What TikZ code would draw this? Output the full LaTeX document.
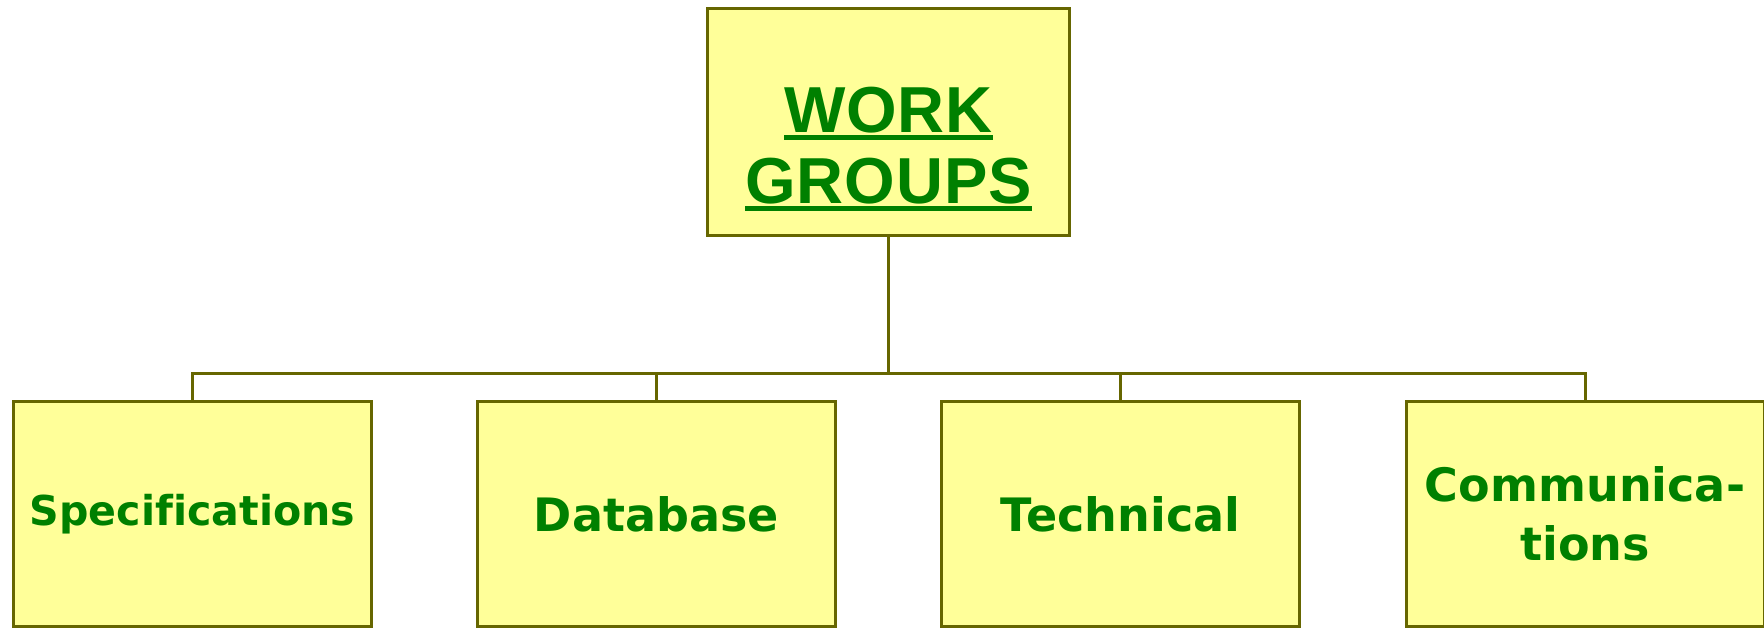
\documentclass[tikz,border=0pt]{standalone}
\usepackage{fontspec}
\newfontfamily\titlefont{Liberation Sans}[LetterSpace=1.5]
\newfontfamily\groupfont{DejaVu Sans}[Ligatures=NoCommon]
\usetikzlibrary{calc}
\definecolor{olivebox}{HTML}{666600}
\definecolor{paleyellow}{HTML}{FFFF99}
\definecolor{leafgreen}{HTML}{008000}
\def\thickul#1{\setbox0\hbox{#1}\rlap{\rule[-0.08cm]{\wd0}{0.05cm}}\box0}

\begin{document}
\begin{tikzpicture}[
		headbox/.style={draw=olivebox, fill=paleyellow, line width=0.03cm, minimum width=3.62cm, minimum height=2.27cm, inner sep=0pt, align=center, text=leafgreen, font=\titlefont\bfseries\fontsize{18.5}{20.2}\selectfont},
		groupbox/.style={draw=olivebox, fill=paleyellow, line width=0.03cm, minimum width=3.58cm, minimum height=2.25cm, inner sep=0pt, align=center, text=leafgreen, font=\groupfont\bfseries\fontsize{13.1}{16.8}\selectfont},
		wire/.style={draw=olivebox, line width=0.03cm}]
		%%%%% START %%%%%
		
		\useasboundingbox (0, 0) rectangle (17.64, 6.28);
		
		\node[headbox] (head) at (8.885, 5.06) {\rule{0pt}{0.99cm}\thickul{WORK}\\\thickul{GROUPS}};
		
		\node[groupbox, font=\groupfont\bfseries\fontsize{11.7}{14}\selectfont] (spec) at (1.925, 1.14) {Specifications};
		\node[groupbox] (data) at (6.565, 1.14) {Database};
		\node[groupbox] (tech) at (11.205, 1.14) {Technical};
		\node[groupbox] (comm) at (15.85, 1.14) {Communica-\\tions};
		
		\coordinate (bus) at (0, 2.545);
		\foreach \g in {spec, data, tech, comm}
			\draw[wire] (head.south) |- (\g.north |- bus) -- (\g.north);
		
		%%%%% END %%%%%
	\end{tikzpicture}
\end{document}
